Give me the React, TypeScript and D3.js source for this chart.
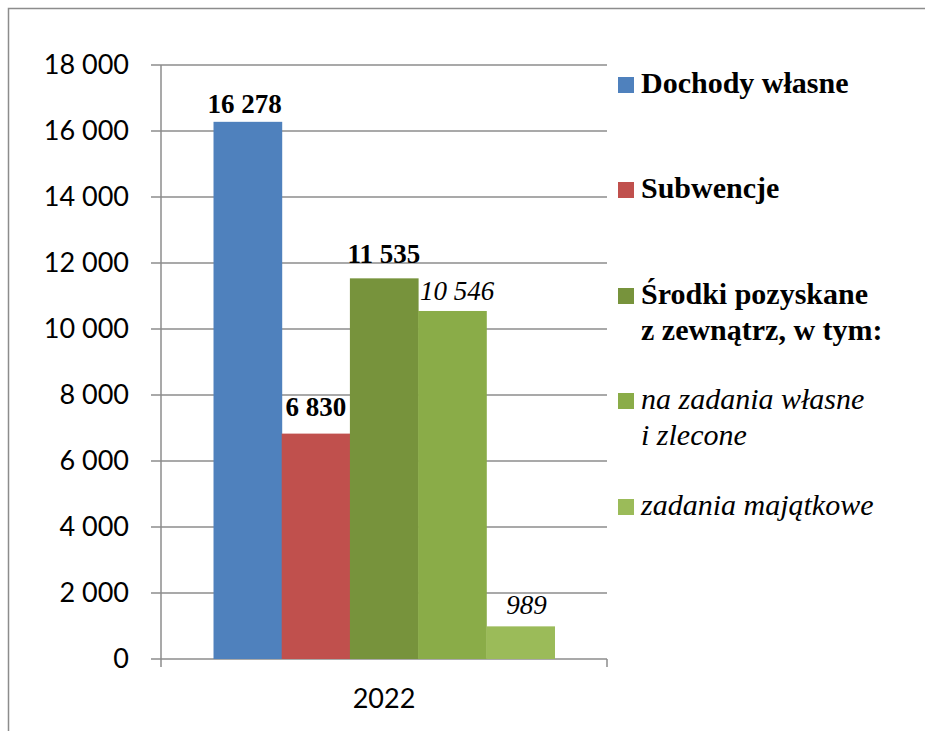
import { useRef, useEffect } from "react";
import * as d3 from "d3";

const category = "2022";
const seriesNames = [
  "Dochody własne",
  "Subwencje",
  "Środki pozyskane|z zewnątrz, w tym:",
  "na zadania własne|i zlecone",
  "zadania majątkowe",
];
const seriesValues = [16278, 6830, 11535, 10546, 989];
const seriesColors = ["#4F81BD", "#C0504D", "#77933C", "#8AAC48", "#9BBB59"];
const seriesItalic = [false, false, false, true, true];
const yTicks = [0, 2000, 4000, 6000, 8000, 10000, 12000, 14000, 16000, 18000];

// label nudges, as Excel placed them
const labelDx = [-3, 0, 0, 5, 6];
const labelDy = [9, 18, 15, 11, 12];

const SERIF = "Liberation Serif, DejaVu Serif, Times New Roman, serif";

const fmt = (v: number) => d3.format(",")(v).replace(/,/g, " ");

const App = () => {
  const svgRef = useRef<SVGSVGElement>(null);

  useEffect(() => {
    const svg = d3.select(svgRef.current);
    svg.selectAll("*").remove();

    const width = 925;
    const height = 731;
    const margin = { top: 65, left: 161, right: 318, bottom: 72 };
    const plotW = width - margin.left - margin.right;
    const plotH = height - margin.top - margin.bottom;

    svg.attr("width", width).attr("height", height);

    // outer frame
    svg
      .append("rect")
      .attr("x", 8.5)
      .attr("y", 8.5)
      .attr("width", width + 20)
      .attr("height", height + 20)
      .attr("fill", "white")
      .attr("stroke", "#8c8c8c")
      .attr("stroke-width", 1.5);

    const chart = svg
      .append("g")
      .attr("transform", `translate(${margin.left},${margin.top})`);

    const yScale = d3.scaleLinear().domain([0, 18000]).range([plotH, 0]);
    const xBand = d3.scaleBand().domain([category]).range([0, plotW]).paddingInner(0).paddingOuter(0.154);
    const inner = d3
      .scaleBand<number>()
      .domain(d3.range(seriesValues.length))
      .range([0, xBand.bandwidth()]);

    // gridlines
    chart
      .append("g")
      .selectAll("line")
      .data(yTicks)
      .join("line")
      .attr("x1", -10)
      .attr("x2", plotW)
      .attr("y1", (d) => yScale(d))
      .attr("y2", (d) => yScale(d))
      .attr("stroke", "#8c8c8c")
      .attr("stroke-width", 1.5);

    // bars
    chart
      .append("g")
      .selectAll("rect")
      .data(seriesValues)
      .join("rect")
      .attr("x", (_, i) => (xBand(category) ?? 0) + (inner(i) ?? 0))
      .attr("y", (d) => yScale(d))
      .attr("width", inner.bandwidth() + 0.5)
      .attr("height", (d) => plotH - yScale(d))
      .attr("fill", (_, i) => seriesColors[i]);

    // axes lines
    chart
      .append("line")
      .attr("x1", 0)
      .attr("x2", 0)
      .attr("y1", 0)
      .attr("y2", plotH + 8)
      .attr("stroke", "#8c8c8c")
      .attr("stroke-width", 1.5);
    chart
      .append("line")
      .attr("x1", plotW)
      .attr("x2", plotW)
      .attr("y1", plotH)
      .attr("y2", plotH + 8)
      .attr("stroke", "#8c8c8c")
      .attr("stroke-width", 1.5);

    // y tick labels
    chart
      .append("g")
      .selectAll("text")
      .data(yTicks)
      .join("text")
      .attr("x", -32)
      .attr("y", (d) => yScale(d))
      .attr("dy", "0.35em")
      .attr("text-anchor", "end")
      .style("font-family", "Lato, sans-serif")
      .attr("font-size", 27)
      .attr("fill", "#000")
      .text((d) => fmt(d));

    // category label
    chart
      .append("text")
      .attr("x", (xBand(category) ?? 0) + xBand.bandwidth() / 2)
      .attr("y", plotH + 49)
      .attr("text-anchor", "middle")
      .style("font-family", "Lato, sans-serif")
      .attr("font-size", 27)
      .text(category);

    // data labels
    chart
      .append("g")
      .selectAll("text")
      .data(seriesValues)
      .join("text")
      .attr("x", (_, i) => (xBand(category) ?? 0) + (inner(i) ?? 0) + inner.bandwidth() / 2 + labelDx[i])
      .attr("y", (d, i) => yScale(d) - labelDy[i])
      .attr("text-anchor", "middle")
      .style("font-family", SERIF)
      .attr("font-size", 27)
      .attr("font-weight", (_, i) => (seriesItalic[i] ? "normal" : "bold"))
      .attr("font-style", (_, i) => (seriesItalic[i] ? "italic" : "normal"))
      .text((d) => fmt(d));

    // legend
    const legendY = [77, 182, 288, 393, 499];
    const legend = svg
      .append("g")
      .selectAll("g")
      .data(seriesNames)
      .join("g")
      .attr("transform", (_, i) => `translate(618,${legendY[i]})`);
    legend
      .append("rect")
      .attr("width", 16)
      .attr("height", 16)
      .attr("fill", (_, i) => seriesColors[i]);
    legend.each(function (name, i) {
      const t = d3
        .select(this)
        .append("text")
        .attr("x", 23)
        .attr("y", 16)
        .style("font-family", SERIF)
        .attr("font-size", 30)
        .attr("font-weight", seriesItalic[i] ? "normal" : "bold")
        .attr("font-style", seriesItalic[i] ? "italic" : "normal");
      name.split("|").forEach((line, j) => {
        t.append("tspan").attr("x", 23).attr("dy", j === 0 ? 0 : 36).text(line);
      });
    });
  }, []);

  return (
    <svg
      ref={svgRef}
      style={{ position: "absolute", left: 0, top: 0, display: "block" }}
    ></svg>
  );
};

export default App;
